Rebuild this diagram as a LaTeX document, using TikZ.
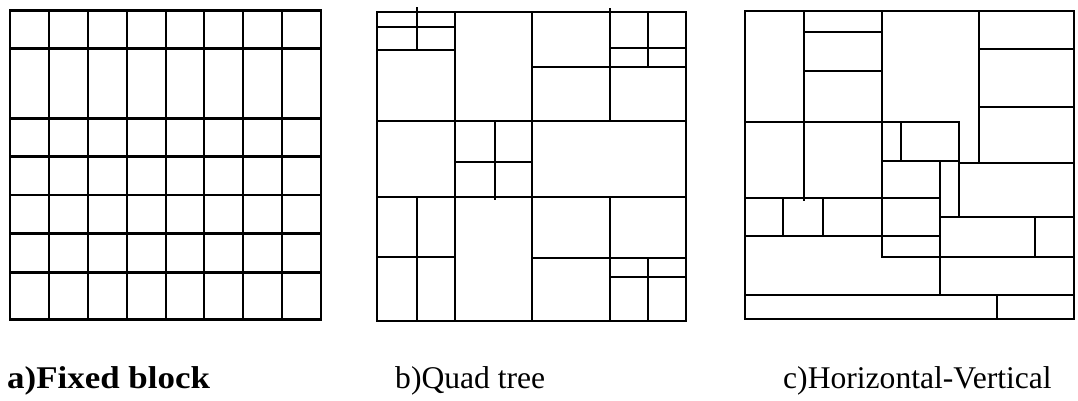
\documentclass[tikz,border=0pt]{standalone}
\usepackage{fontspec}
\setmainfont{Liberation Serif}
\usepackage{xcolor}
\definecolor{pinkline}{RGB}{0,0,0}
\usepackage{tikz}
\usetikzlibrary{positioning}

\begin{document}
\begin{tikzpicture}[x=1pt, y=-1pt,
  cut/.style={draw=pinkline, line width=2.3pt, line cap=rect},
  caption/.style={anchor=base west, inner sep=0pt,
                  font=\fontsize{31.6}{36}\selectfont}]
\useasboundingbox (0,0) rectangle (1078,401);

% --- a) Fixed block ---
\draw[cut, line width=2.7pt] (10,10.7) rectangle (321,319.3);
\foreach \xx in {49,88,127,166,204,243,282}
  \draw[cut, line width=2.7pt] (\xx,10.7) -- (\xx,319.3);
\foreach \yy in {48.3,118.3,156.7,195,233.3,272.7}
  \draw[cut, line width=2.7pt] (10,\yy) -- (321,\yy);
\node[caption, font=\fontsize{31.6}{36}\selectfont\bfseries, xscale=1.105]
     (capfixed) at (7,388) {a)Fixed block};

% --- b) Quad tree ---
\draw[cut] (377.3,11.7) rectangle (686,321);
\draw[cut] (455,11.7) -- (455,321);
\draw[cut] (532.3,11.7) -- (532.3,321);
\draw[cut] (377.3,120.7) -- (686,120.7);
\draw[cut] (377.3,196.7) -- (686,196.7);
% top left
\draw[cut] (377.3,50) -- (455,50);
\draw[cut] (377.3,27.3) -- (455,27.3);
\draw[cut] (417.3,8) -- (417.3,50);
% top right
\draw[cut] (610,9.5) -- (610,120.7);
\draw[cut] (532.3,66.7) -- (686,66.7);
\draw[cut] (648.3,11.7) -- (648.3,66.7);
\draw[cut] (610,48.3) -- (686,48.3);
% centre
\draw[cut] (495,120.7) -- (495,198.5);
\draw[cut] (455,162.3) -- (532.3,162.3);
% bottom left
\draw[cut] (416.7,196.7) -- (416.7,321);
\draw[cut] (377.3,257.3) -- (455,257.3);
% bottom right
\draw[cut] (610,196.7) -- (610,321);
\draw[cut] (532.3,258.3) -- (686,258.3);
\draw[cut] (610,277.3) -- (686,277.3);
\draw[cut] (648.3,258.3) -- (648.3,321);
\node[caption] (capquad) at (395,388) {b)Quad tree};

% --- c) Horizontal-Vertical ---
\draw[cut] (745,10.7) rectangle (1074.3,319.3);
\draw[cut] (804,10.7) -- (804,199.5);
\draw[cut] (745,121.7) -- (959.3,121.7);
\draw[cut] (882.3,10.7) -- (882.3,256.7);
\draw[cut] (804,32.3) -- (882.3,32.3);
\draw[cut] (804,70.7) -- (882.3,70.7);
\draw[cut] (979,10.7) -- (979,163.3);
\draw[cut] (979,49.3) -- (1074.3,49.3);
\draw[cut] (979,107.3) -- (1074.3,107.3);
\draw[cut] (959.3,121.7) -- (959.3,216.7);
\draw[cut] (901,121.7) -- (901,160.7);
\draw[cut] (882.3,160.7) -- (959.3,160.7);
\draw[cut] (959.3,163.3) -- (1074.3,163.3);
\draw[cut] (940,160.7) -- (940,295);
\draw[cut] (745,198.3) -- (940,198.3);
\draw[cut] (940,216.7) -- (1074.3,216.7);
\draw[cut] (1035,216.7) -- (1035,256.7);
\draw[cut] (882.3,256.7) -- (1074.3,256.7);
\draw[cut] (783.3,198.3) -- (783.3,236);
\draw[cut] (823.3,198.3) -- (823.3,236);
\draw[cut] (745,236) -- (940,236);
\draw[cut] (745,295) -- (1074.3,295);
\draw[cut] (996.7,295) -- (996.7,319.3);
\node[caption] (caphv) at (783,388) {c)Horizontal-Vertical};

\end{tikzpicture}
\end{document}
